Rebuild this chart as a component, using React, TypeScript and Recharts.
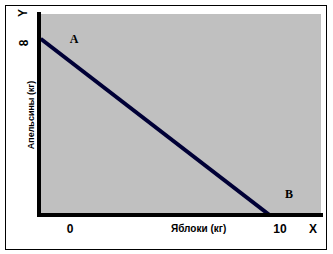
import React from 'react';
import { LineChart, Line, XAxis, YAxis, CartesianGrid, ReferenceDot, Label } from 'recharts';

const budgetLine = [
  { x: -1.4, y: 8.2 },
  { x: 9.5, y: 0 },
];
const xTicks = [0, 10];
const yTicks = [8];
const pointLabels = [
  { name: 'A', x: 0.19, y: 8.19 },
  { name: 'B', x: 10.43, y: 0.98 },
];
const xTitle = 'Яблоки (кг)';
const yTitle = 'Апельсины (кг)';
const xAxisName = 'X';
const yAxisName = 'Y';

const sans = 'Arial, "Liberation Sans", sans-serif';

const XTick = (props: any) => {
  const { x, y, payload } = props;
  return (
    <text x={x} y={y + 18} textAnchor="middle" fontFamily={sans} fontWeight="bold" fontSize={12} fill="#000">
      {payload.value}
    </text>
  );
};

const YTick = (props: any) => {
  const { x, y, payload } = props;
  const tx = x - 11;
  return (
    <text x={tx} y={y} textAnchor="middle" transform={`rotate(-90 ${tx} ${y})`} fontFamily={sans} fontWeight="bold" fontSize={12} fill="#000">
      {payload.value}
    </text>
  );
};

export default function App() {
  return (
    <div style={{ position: 'absolute', left: 0, top: 0, width: 333, height: 254, background: '#fff' }}>
      <LineChart
        width={333}
        height={254}
        data={budgetLine}
        margin={{ top: 14, right: 12, bottom: 0, left: 0 }}
      >
        <CartesianGrid fill="#c0c0c0" fillOpacity={1} horizontal={false} vertical={false} stroke="none" />
        <XAxis
          type="number"
          dataKey="x"
          domain={[-1.48, 11.95]}
          ticks={xTicks}
          allowDataOverflow
          height={39}
          tickSize={0}
          tickMargin={0}
          tickLine={false}
          axisLine={{ stroke: '#000', strokeWidth: 4, strokeLinecap: 'square' }}
          tick={<XTick />}
        >
          <Label
            content={(p: any) => {
              const vb = p.viewBox;
              return (
                <g>
                  <text x={vb.x + vb.width * 0.566} y={vb.y + 17} textAnchor="middle" fontFamily={sans} fontWeight="bold" fontSize={10} fill="#000">
                    {xTitle}
                  </text>
                  <text x={vb.x + vb.width - 8} y={vb.y + 18} textAnchor="middle" fontFamily={sans} fontWeight="bold" fontSize={12} fill="#000">
                    {xAxisName}
                  </text>
                </g>
              );
            }}
          />
        </XAxis>
        <YAxis
          type="number"
          dataKey="y"
          domain={[0, 9.35]}
          ticks={yTicks}
          allowDataOverflow
          width={39}
          tickSize={0}
          tickMargin={0}
          tickLine={false}
          axisLine={{ stroke: '#000', strokeWidth: 4, strokeLinecap: 'square' }}
          tick={<YTick />}
        >
          <Label
            content={(p: any) => {
              const vb = p.viewBox;
              const cx = 34;
              const cy = vb.y + 101;
              const yx = 27;
              const yy = vb.y - 1;
              return (
                <g>
                  <text x={cx} y={cy} textAnchor="middle" transform={`rotate(-90 ${cx} ${cy})`} fontFamily={sans} fontWeight="bold" fontSize={9} fill="#000">
                    {yTitle}
                  </text>
                  <text x={yx} y={yy} textAnchor="middle" transform={`rotate(-90 ${yx} ${yy})`} fontFamily={sans} fontWeight="bold" fontSize={12} fill="#000">
                    {yAxisName}
                  </text>
                </g>
              );
            }}
          />
        </YAxis>
        <Line
          type="linear"
          dataKey="y"
          stroke="#000036"
          strokeWidth={4}
          dot={false}
          activeDot={false}
          isAnimationActive={false}
        />
        {pointLabels.map((pt) => (
          <ReferenceDot
            key={pt.name}
            x={pt.x}
            y={pt.y}
            r={0}
            ifOverflow="visible"
            shape={(s: any) => (
              <text x={s.cx} y={s.cy + 4.5} textAnchor="middle" fontFamily='"Times New Roman", "Liberation Serif", serif' fontWeight="bold" fontSize={12} fill="#000">
                {pt.name}
              </text>
            )}
          />
        ))}
      </LineChart>
      <div
        style={{
          position: 'absolute',
          left: 5,
          top: 5,
          width: 322,
          height: 245,
          border: '1px solid #000',
          boxSizing: 'border-box',
          pointerEvents: 'none',
        }}
      />
    </div>
  );
}
